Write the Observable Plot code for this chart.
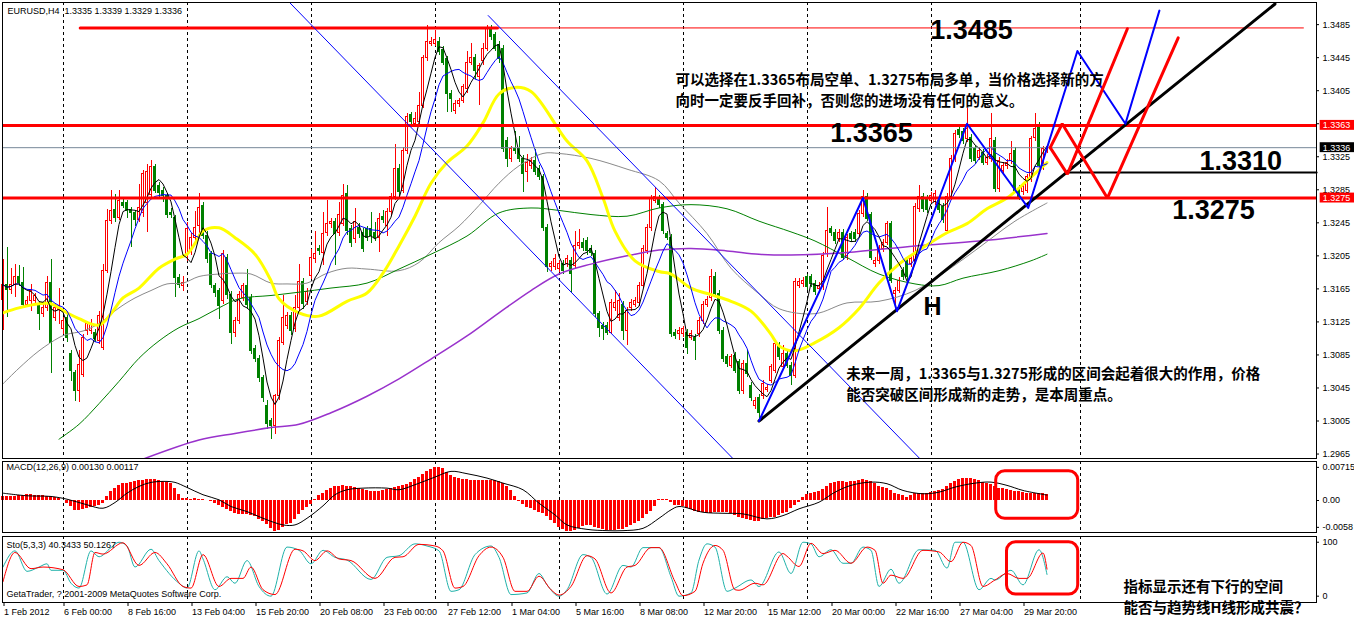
<!DOCTYPE html>
<html><head><meta charset="utf-8">
<script src="https://cdn.jsdelivr.net/npm/d3@7"></script>
<script src="https://cdn.jsdelivr.net/npm/@observablehq/plot@0.6"></script>
<style>
html,body{margin:0;padding:0;background:#fff;}
#chart{width:1354px;height:619px;overflow:hidden;}
#chart svg{display:block;}
</style></head><body><div id="chart"></div>
<script>
// ===== DATA (EURUSD H4) =====
const open = [
1.3152,1.3170,1.3164,1.3170,1.3179,1.3172,1.3146,1.3150,1.3150,1.3146,
1.3134,1.3142,1.3172,1.3130,1.3140,1.3116,1.3130,1.3086,1.3063,1.3041,
1.3061,1.3114,1.3114,1.3112,1.3102,1.3094,1.3187,1.3247,1.3261,1.3251,
1.3269,1.3269,1.3261,1.3257,1.3249,1.3257,1.3269,1.3279,1.3312,1.3290,
1.3284,1.3277,1.3257,1.3251,1.3178,1.3168,1.3205,1.3211,1.3227,1.3241,
1.3265,1.3229,1.3207,1.3168,1.3162,1.3150,1.3203,1.3158,1.3112,1.3126,
1.3154,1.3168,1.3154,1.3092,1.3080,1.3057,1.3023,1.3005,1.2999,1.3035,
1.3100,1.3120,1.3132,1.3116,1.3142,1.3173,1.3149,1.3181,1.3201,1.3213,
1.3209,1.3233,1.3244,1.3246,1.3233,1.3244,1.3280,1.3237,1.3225,1.3239,
1.3233,1.3237,1.3237,1.3233,1.3227,1.3252,1.3241,1.3258,1.3276,1.3310,
1.3284,1.3332,1.3375,1.3365,1.3367,1.3387,1.3445,1.3462,1.3462,1.3464,
1.3454,1.3443,1.3401,1.3381,1.3389,1.3393,1.3407,1.3439,1.3445,1.3421,
1.3441,1.3456,1.3480,1.3472,1.3460,1.3456,1.3344,1.3322,1.3334,1.3334,
1.3322,1.3306,1.3314,1.3320,1.3310,1.3300,1.3239,1.3191,1.3191,1.3189,
1.3195,1.3195,1.3199,1.3193,1.3217,1.3221,1.3223,1.3213,1.3207,1.3134,
1.3120,1.3120,1.3112,1.3142,1.3130,1.3146,1.3114,1.3142,1.3146,1.3148,
1.3169,1.3211,1.3239,1.3272,1.3274,1.3266,1.3231,1.3227,1.3112,1.3110,
1.3110,1.3112,1.3106,1.3106,1.3110,1.3126,1.3146,1.3154,1.3179,1.3159,
1.3114,1.3082,1.3072,1.3084,1.3076,1.3041,1.3074,1.3048,1.3023,1.3033,
1.3035,1.3043,1.3054,1.3066,1.3096,1.3070,1.3086,1.3072,1.3060,1.3169,
1.3171,1.3179,1.3179,1.3171,1.3165,1.3167,1.3207,1.3237,1.3233,1.3225,
1.3233,1.3203,1.3231,1.3233,1.3231,1.3256,1.3276,1.3254,1.3195,1.3199,
1.3213,1.3221,1.3243,1.3159,1.3163,1.3187,1.3199,1.3195,1.3199,1.3262,
1.3276,1.3274,1.3272,1.3270,1.3272,1.3264,1.3235,1.3276,1.3322,1.3357,
1.3355,1.3346,1.3348,1.3334,1.3324,1.3330,1.3318,1.3322,1.3344,1.3286,
1.3308,1.3314,1.3320,1.3332,1.3286,1.3282,1.3284,1.3298,1.3348,1.3363,
1.3312,1.3335];
const high = [
1.3201,1.3215,1.3190,1.3195,1.3193,1.3191,1.3156,1.3170,1.3160,1.3150,
1.3146,1.3180,1.3201,1.3146,1.3166,1.3130,1.3134,1.3090,1.3066,1.3090,
1.3110,1.3126,1.3128,1.3116,1.3138,1.3195,1.3261,1.3284,1.3279,1.3284,
1.3276,1.3272,1.3264,1.3260,1.3292,1.3308,1.3316,1.3320,1.3316,1.3294,
1.3288,1.3280,1.3262,1.3254,1.3182,1.3180,1.3245,1.3232,1.3259,1.3281,
1.3270,1.3234,1.3210,1.3172,1.3166,1.3212,1.3207,1.3162,1.3130,1.3162,
1.3172,1.3189,1.3158,1.3096,1.3084,1.3060,1.3030,1.3008,1.3037,1.3106,
1.3157,1.3136,1.3136,1.3157,1.3195,1.3178,1.3165,1.3213,1.3235,1.3218,
1.3258,1.3272,1.3250,1.3250,1.3270,1.3292,1.3290,1.3242,1.3262,1.3244,
1.3238,1.3241,1.3258,1.3245,1.3256,1.3260,1.3262,1.3280,1.3340,1.3316,
1.3336,1.3377,1.3379,1.3379,1.3403,1.3448,1.3484,1.3470,1.3478,1.3470,
1.3458,1.3447,1.3405,1.3393,1.3396,1.3412,1.3452,1.3462,1.3449,1.3438,
1.3462,1.3484,1.3484,1.3476,1.3464,1.3460,1.3348,1.3338,1.3355,1.3349,
1.3326,1.3328,1.3324,1.3334,1.3314,1.3304,1.3243,1.3198,1.3207,1.3199,
1.3199,1.3206,1.3203,1.3235,1.3237,1.3226,1.3227,1.3217,1.3211,1.3138,
1.3124,1.3124,1.3152,1.3163,1.3160,1.3150,1.3142,1.3152,1.3154,1.3173,
1.3217,1.3243,1.3278,1.3288,1.3278,1.3270,1.3235,1.3231,1.3116,1.3118,
1.3120,1.3116,1.3114,1.3110,1.3130,1.3150,1.3156,1.3189,1.3185,1.3163,
1.3118,1.3086,1.3086,1.3088,1.3080,1.3078,1.3090,1.3052,1.3033,1.3037,
1.3054,1.3049,1.3074,1.3102,1.3100,1.3096,1.3090,1.3076,1.3177,1.3177,
1.3179,1.3183,1.3183,1.3175,1.3173,1.3209,1.3264,1.3241,1.3237,1.3237,
1.3237,1.3231,1.3235,1.3237,1.3260,1.3284,1.3280,1.3258,1.3203,1.3217,
1.3225,1.3247,1.3247,1.3167,1.3179,1.3191,1.3203,1.3205,1.3268,1.3290,
1.3280,1.3278,1.3282,1.3284,1.3276,1.3268,1.3280,1.3326,1.3357,1.3361,
1.3359,1.3383,1.3352,1.3338,1.3336,1.3334,1.3328,1.3377,1.3348,1.3324,
1.3318,1.3322,1.3344,1.3336,1.3290,1.3292,1.3304,1.3350,1.3377,1.3367,
1.3338,1.3339];
const low = [
1.3114,1.3130,1.3158,1.3154,1.3168,1.3142,1.3142,1.3138,1.3146,1.3114,
1.3130,1.3138,1.3063,1.3126,1.3122,1.3110,1.3100,1.3053,1.3029,1.3027,
1.3058,1.3108,1.3110,1.3100,1.3098,1.3090,1.3184,1.3243,1.3245,1.3248,
1.3262,1.3250,1.3215,1.3240,1.3245,1.3252,1.3233,1.3274,1.3280,1.3276,
1.3270,1.3250,1.3250,1.3154,1.3166,1.3162,1.3198,1.3205,1.3222,1.3231,
1.3225,1.3196,1.3165,1.3155,1.3128,1.3146,1.3152,1.3098,1.3106,1.3122,
1.3150,1.3140,1.3086,1.3076,1.3052,1.3028,1.2995,1.2983,1.2989,1.3030,
1.3096,1.3116,1.3108,1.3112,1.3138,1.3140,1.3145,1.3176,1.3196,1.3206,
1.3193,1.3228,1.3238,1.3193,1.3228,1.3240,1.3230,1.3215,1.3220,1.3226,
1.3209,1.3222,1.3220,1.3222,1.3209,1.3244,1.3229,1.3254,1.3272,1.3275,
1.3280,1.3328,1.3362,1.3360,1.3362,1.3383,1.3440,1.3458,1.3458,1.3448,
1.3435,1.3379,1.3379,1.3376,1.3385,1.3389,1.3402,1.3435,1.3419,1.3387,
1.3436,1.3452,1.3466,1.3452,1.3438,1.3330,1.3312,1.3318,1.3328,1.3318,
1.3282,1.3294,1.3310,1.3302,1.3296,1.3235,1.3185,1.3186,1.3187,1.3185,
1.3183,1.3191,1.3160,1.3189,1.3213,1.3210,1.3206,1.3204,1.3130,1.3106,
1.3102,1.3108,1.3110,1.3138,1.3126,1.3102,1.3096,1.3138,1.3142,1.3144,
1.3165,1.3207,1.3235,1.3268,1.3262,1.3231,1.3223,1.3106,1.3104,1.3102,
1.3106,1.3086,1.3102,1.3078,1.3106,1.3122,1.3142,1.3150,1.3155,1.3110,
1.3076,1.3070,1.3068,1.3062,1.3037,1.3037,1.3058,1.3029,1.3019,1.3005,
1.3031,1.3039,1.3050,1.3062,1.3078,1.3066,1.3068,1.3048,1.3056,1.3165,
1.3167,1.3163,1.3167,1.3157,1.3161,1.3163,1.3203,1.3229,1.3219,1.3221,
1.3199,1.3199,1.3221,1.3221,1.3227,1.3252,1.3246,1.3199,1.3191,1.3195,
1.3209,1.3217,1.3171,1.3138,1.3159,1.3175,1.3175,1.3191,1.3195,1.3258,
1.3258,1.3256,1.3268,1.3266,1.3256,1.3244,1.3231,1.3272,1.3318,1.3347,
1.3340,1.3342,1.3318,1.3316,1.3320,1.3314,1.3314,1.3318,1.3282,1.3282,
1.3304,1.3310,1.3316,1.3280,1.3272,1.3278,1.3280,1.3294,1.3344,1.3310,
1.3308,1.3329];
const close = [
1.3170,1.3164,1.3170,1.3179,1.3172,1.3146,1.3150,1.3162,1.3156,1.3134,
1.3142,1.3172,1.3100,1.3142,1.3144,1.3126,1.3106,1.3065,1.3041,1.3073,
1.3106,1.3122,1.3123,1.3104,1.3132,1.3187,1.3247,1.3259,1.3251,1.3271,
1.3265,1.3259,1.3257,1.3249,1.3263,1.3304,1.3306,1.3312,1.3284,1.3281,
1.3277,1.3255,1.3255,1.3178,1.3170,1.3172,1.3237,1.3227,1.3239,1.3263,
1.3229,1.3201,1.3170,1.3160,1.3144,1.3207,1.3158,1.3112,1.3126,1.3158,
1.3168,1.3146,1.3090,1.3080,1.3057,1.3033,1.3001,1.2999,1.3035,1.3102,
1.3130,1.3132,1.3114,1.3142,1.3173,1.3147,1.3161,1.3203,1.3207,1.3211,
1.3231,1.3244,1.3246,1.3231,1.3254,1.3278,1.3235,1.3221,1.3246,1.3231,
1.3213,1.3227,1.3229,1.3227,1.3250,1.3248,1.3258,1.3276,1.3310,1.3282,
1.3332,1.3373,1.3367,1.3371,1.3387,1.3445,1.3464,1.3464,1.3466,1.3452,
1.3439,1.3401,1.3395,1.3389,1.3393,1.3409,1.3439,1.3445,1.3429,1.3435,
1.3456,1.3480,1.3470,1.3456,1.3443,1.3334,1.3322,1.3334,1.3332,1.3322,
1.3304,1.3318,1.3320,1.3306,1.3300,1.3239,1.3191,1.3195,1.3201,1.3195,
1.3187,1.3201,1.3183,1.3217,1.3221,1.3215,1.3211,1.3209,1.3134,1.3118,
1.3116,1.3112,1.3148,1.3148,1.3150,1.3114,1.3138,1.3148,1.3150,1.3169,
1.3213,1.3239,1.3274,1.3276,1.3266,1.3235,1.3227,1.3110,1.3108,1.3114,
1.3116,1.3094,1.3110,1.3102,1.3126,1.3146,1.3152,1.3179,1.3159,1.3114,
1.3080,1.3074,1.3082,1.3066,1.3041,1.3074,1.3062,1.3033,1.3029,1.3015,
1.3050,1.3045,1.3070,1.3098,1.3082,1.3086,1.3072,1.3060,1.3173,1.3173,
1.3175,1.3167,1.3171,1.3161,1.3169,1.3205,1.3235,1.3233,1.3223,1.3233,
1.3203,1.3227,1.3225,1.3225,1.3256,1.3276,1.3250,1.3203,1.3199,1.3213,
1.3221,1.3243,1.3175,1.3163,1.3175,1.3179,1.3179,1.3201,1.3264,1.3276,
1.3262,1.3260,1.3278,1.3280,1.3260,1.3248,1.3276,1.3322,1.3353,1.3351,
1.3344,1.3359,1.3322,1.3320,1.3332,1.3318,1.3324,1.3346,1.3286,1.3320,
1.3314,1.3318,1.3328,1.3284,1.3276,1.3288,1.3300,1.3346,1.3359,1.3314,
1.3334,1.3336];

// moving averages drawn on the chart: [bar, price]
const maYellow = [[0,1.3136],[4,1.3142],[9,1.3147],[12,1.3147],[16,1.3136],[19,1.3129],[24,1.3121],[27,1.3135],[30,1.3154],[34,1.3166],[39,1.3190],[43,1.3201],[46,1.3207],[48,1.3220],[50,1.3235],[54,1.3239],[58,1.3227],[63,1.3207],[67,1.3175],[69,1.3153],[74,1.3136],[79,1.3132],[86,1.3150],[91,1.3160],[95,1.3184],[99,1.3217],[103,1.3253],[107,1.3293],[111,1.3318],[116,1.3338],[120,1.3366],[124,1.3401],[128,1.3409],[132,1.3404],[141,1.3344],[146,1.3320],[150,1.3275],[153,1.3235],[158,1.3199],[164,1.3186],[167,1.3183],[172,1.3166],[177,1.3158],[182,1.3150],[187,1.3138],[192,1.3110],[194,1.3096],[198,1.3090],[203,1.3100],[209,1.3118],[214,1.3141],[219,1.3172],[224,1.3195],[230,1.3215],[236,1.3233],[241,1.3244],[246,1.3262],[251,1.3275],[256,1.3296],[261,1.3318]];
const maGray = [[0,1.3050],[4,1.3069],[9,1.3090],[14,1.3106],[16,1.3110],[20,1.3114],[24,1.3123],[29,1.3142],[33,1.3154],[37,1.3163],[41,1.3171],[45,1.3172],[49,1.3180],[54,1.3183],[58,1.3184],[62,1.3183],[67,1.3172],[71,1.3171],[76,1.3172],[81,1.3184],[86,1.3190],[91,1.3189],[99,1.3187],[104,1.3197],[109,1.3221],[114,1.3241],[119,1.3266],[124,1.3293],[129,1.3314],[135,1.3329],[139,1.3329],[147,1.3323],[156,1.3310],[164,1.3296],[169,1.3269],[176,1.3232],[182,1.3190],[189,1.3159],[194,1.3141],[203,1.3135],[211,1.3148],[219,1.3150],[228,1.3163],[236,1.3187],[244,1.3215],[253,1.3247],[261,1.3269]];
const maGreen = [[14,1.2983],[19,1.3001],[24,1.3026],[29,1.3053],[34,1.3081],[39,1.3102],[44,1.3118],[49,1.3129],[54,1.3142],[59,1.3153],[67,1.3157],[74,1.3161],[82,1.3166],[91,1.3172],[99,1.3189],[107,1.3207],[116,1.3229],[124,1.3257],[132,1.3263],[139,1.3260],[147,1.3255],[156,1.3253],[164,1.3263],[172,1.3267],[181,1.3262],[189,1.3247],[197,1.3234],[203,1.3223],[211,1.3203],[219,1.3183],[228,1.3171],[234,1.3169],[240,1.3178],[249,1.3187],[257,1.3199],[261,1.3207]];
const maPurple = [[34,1.2957],[49,1.2982],[58,1.2990],[67,1.2997],[74,1.3001],[82,1.3015],[91,1.3035],[99,1.3056],[107,1.3080],[116,1.3108],[124,1.3136],[132,1.3163],[139,1.3183],[147,1.3195],[156,1.3205],[164,1.3212],[172,1.3214],[181,1.3211],[189,1.3207],[197,1.3206],[211,1.3209],[228,1.3217],[244,1.3223],[261,1.3232]];

// MACD(12,26,9): main (histogram, one per bar) and signal [bar, value]
const macdMain = [
0.00087,0.00087,0.00087,0.00093,0.00102,0.00109,0.00124,0.00124,0.00115,0.00109,
0.00102,0.00093,0.00087,0.00065,0.00037,0.00007,-0.00059,-0.0013,-0.00217,-0.00217,
-0.00202,-0.0018,-0.00152,-0.0013,-0.00102,-0.00059,0.00087,0.00195,0.00267,0.00326,
0.00362,0.00375,0.00397,0.00412,0.00427,0.00434,0.00456,0.00462,0.00449,0.00434,
0.00412,0.00391,0.00362,0.00267,0.00124,0.0005,0.0005,0.00028,0.00043,0.00028,
0.00015,0,-0.00028,-0.00072,-0.00115,-0.00145,-0.00202,-0.00245,-0.00289,-0.0031,
-0.0031,-0.0031,-0.00326,-0.00347,-0.00406,-0.00456,-0.00527,-0.00601,-0.00673,-0.00651,
-0.00579,-0.00527,-0.00493,-0.00419,-0.0031,-0.00217,-0.00145,-0.00093,0.00028,0.00102,
0.00158,0.0021,0.0026,0.00297,0.0031,0.00319,0.0031,0.00304,0.00282,0.00267,
0.00245,0.00224,0.00202,0.00195,0.00202,0.00217,0.00232,0.00254,0.00276,0.00304,
0.00326,0.00354,0.00397,0.00449,0.00506,0.00558,0.00623,0.00679,0.0071,0.00723,
0.00701,0.00608,0.00549,0.00506,0.00471,0.00449,0.00449,0.00441,0.00434,0.00434,
0.00434,0.00434,0.00434,0.00434,0.00412,0.00362,0.00304,0.00217,0.00087,-0.00022,
-0.00093,-0.00145,-0.00174,-0.00217,-0.0026,-0.00289,-0.00347,-0.00434,-0.00506,-0.00579,
-0.00636,-0.00666,-0.00679,-0.00651,-0.00601,-0.00564,-0.00549,-0.00549,-0.00579,-0.00608,
-0.00636,-0.00658,-0.00651,-0.00651,-0.00636,-0.00623,-0.00579,-0.00549,-0.00506,-0.00456,
-0.00384,-0.0031,-0.00239,-0.0013,0.00015,0.00022,0.00015,-0.00043,-0.00108,-0.00109,
-0.0013,-0.00174,-0.00202,-0.00232,-0.00254,-0.00267,-0.00289,-0.00276,-0.00254,-0.00254,
-0.00254,-0.00267,-0.00289,-0.00326,-0.00362,-0.00391,-0.00419,-0.00434,-0.00449,-0.00449,
-0.00419,-0.00397,-0.00375,-0.00362,-0.00326,-0.00289,-0.00254,-0.0018,-0.00109,-0.00037,
0.00072,0.0013,0.00158,0.00174,0.00189,0.00232,0.00304,0.00362,0.00391,0.00406,
0.00406,0.00397,0.00406,0.00419,0.00434,0.00449,0.00434,0.00412,0.00362,0.0031,
0.00276,0.0026,0.00217,0.00158,0.00124,0.00102,0.00072,0.00102,0.00145,0.00158,
0.00158,0.00158,0.0018,0.00202,0.00217,0.00239,0.00304,0.00362,0.00406,0.00449,
0.00471,0.00477,0.00471,0.00462,0.00434,0.00397,0.00362,0.00347,0.00304,0.00267,
0.00254,0.00239,0.00217,0.00202,0.00189,0.00174,0.00158,0.00145,0.00145,0.00152,
0.00158,0.0013];
const macdSignal = [[0,0.00158],[6,0.00102],[12,0.00087],[16,0.00028],[21,-0.00093],[25,-0.00167],[28,-0.00043],[31,0.00158],[34,0.00304],[37,0.00391],[41,0.00412],[43,0.00391],[46,0.00282],[50,0.00124],[54,0.00015],[57,-0.0013],[61,-0.00239],[65,-0.00384],[70,-0.00527],[73,-0.00527],[76,-0.00384],[80,-0.00115],[83,0.00124],[86,0.00232],[90,0.00267],[96,0.00267],[99,0.00232],[103,0.00341],[108,0.00506],[112,0.00629],[116,0.00579],[121,0.00484],[125,0.00375],[130,0.00232],[134,-0.00059],[138,-0.0031],[141,-0.00527],[146,-0.00623],[151,-0.00651],[155,-0.00651],[160,-0.00601],[164,-0.00384],[167,-0.00202],[169,-0.0013],[175,-0.00254],[180,-0.00276],[185,-0.00289],[191,-0.00397],[195,-0.00326],[199,-0.0018],[204,-0.00037],[208,0.0018],[212,0.00326],[217,0.00397],[221,0.00362],[225,0.00217],[230,0.00145],[234,0.0018],[238,0.00289],[243,0.00375],[247,0.00397],[251,0.00326],[255,0.00217],[261,0.00117]];

// Stochastic(5,3,3): main and signal [bar, value]
const stochMain = [[0,54],[3,84],[6,46],[9,54],[11,60],[12,48],[15,48],[17,24],[19,15],[22,84],[24,73],[27,90],[29,100],[31,93],[33,54],[37,87],[39,66],[44,24],[46,15],[49,84],[50,69],[53,12],[56,36],[58,24],[61,66],[64,18],[67,0],[71,91],[74,85],[77,60],[80,85],[83,72],[86,67],[92,31],[96,72],[99,75],[103,97],[106,93],[109,84],[112,9],[114,12],[118,77],[122,93],[124,72],[127,3],[131,6],[134,42],[136,21],[139,0],[141,12],[145,77],[147,72],[151,4],[155,57],[157,54],[160,90],[164,90],[167,36],[169,0],[172,6],[174,67],[176,97],[178,91],[181,9],[183,15],[187,30],[189,18],[194,82],[197,42],[200,100],[202,97],[204,73],[207,86],[210,61],[212,61],[215,91],[217,85],[219,18],[222,50],[224,24],[229,86],[233,85],[236,52],[238,100],[240,100],[244,12],[247,33],[248,30],[252,48],[255,21],[259,86],[261,40.3433]];
const stochSignal = [[0,27],[3,81],[7,51],[10,54],[15,49],[19,18],[21,21],[23,81],[25,78],[30,99],[34,57],[38,81],[41,60],[45,18],[47,15],[50,77],[54,18],[57,33],[60,33],[62,54],[65,12],[68,3],[73,87],[75,84],[78,66],[81,84],[84,69],[87,66],[93,33],[98,72],[100,73],[104,96],[108,93],[110,84],[113,15],[115,18],[119,75],[122,91],[125,72],[128,9],[131,9],[134,37],[137,12],[139,2],[142,18],[146,75],[148,69],[152,6],[156,54],[158,57],[162,90],[164,90],[168,27],[170,1],[173,9],[175,61],[178,94],[180,85],[183,12],[184,11],[188,24],[190,21],[195,79],[196,74],[199,55],[202,98],[205,79],[208,85],[212,61],[216,91],[218,85],[220,24],[222,39],[225,33],[230,85],[234,82],[237,64],[240,100],[242,94],[245,18],[248,30],[251,42],[254,33],[256,33],[260,80],[261,50.1267]];

// time axis
const weekStarts = [15, 46, 77, 108, 139, 170, 201, 232, 269.3];
const timeTickBars = [0, 15, 31, 47, 63, 79, 95, 111, 127, 143, 159, 175, 191, 207, 223, 239, 255];
const timeTickLabels = ["1 Feb 2012","6 Feb 00:00","8 Feb 16:00","13 Feb 04:00","15 Feb 20:00","20 Feb 08:00","23 Feb 00:00","27 Feb 12:00","1 Mar 04:00","5 Mar 16:00","8 Mar 08:00","12 Mar 20:00","15 Mar 12:00","20 Mar 00:00","22 Mar 16:00","27 Mar 04:00","29 Mar 20:00"];
const priceTicks = [1.2965,1.3005,1.3045,1.3085,1.3125,1.3165,1.3205,1.3245,1.3285,1.3325,1.3365,1.3405,1.3445,1.3485];
const macdTicks = [0.00715, 0, -0.0058];
const macdTickLabels = ["0.00715", "0.00", "-0.0058"];
const stochTicks = [0, 100];

// levels and drawn objects [bar, price]
const rangeLevels = [1.3363, 1.3275];
const bidPrice = 1.3336;
const topLevelThin = [[19.3, 1.3481], [325.1, 1.3481]];
const topLevelThick = [[19.3, 1.3481], [123.6, 1.3481]];
const midLevel = [[266.1, 1.3306], [328.4, 1.3306]];
const channelA = [[70, 1.3520], [185, 1.2947]];
const channelB = [[121.3, 1.3496], [229.3, 1.2959]];
const trendLine = [[189, 1.3005], [318, 1.3510]];
const zigzag = [[189,1.3005],[215,1.3275],[223.5,1.3138],[241,1.3365],[256.3,1.3263],[268.6,1.3453],[280.6,1.3365],[289.1,1.3502]];
const projA = [[261.8,1.3336],[264.8,1.3365],[276.1,1.3275],[293.8,1.3469]];
const projB = [[261.8,1.3336],[266.1,1.3304],[281.1,1.3480]];
const bigLabels = [
  {text: "1.3485", bar: 231.8, price: 1.3478},
  {text: "1.3365", bar: 206.8, price: 1.33537},
  {text: "1.3310", bar: 299.1, price: 1.3320},
  {text: "1.3275", bar: 292.3, price: 1.32605}
];
const hLabel = [{text: "H", bar: 230.1, price: 1.31436}];
const notesMain = [
  {text: "可以选择在1.3365布局空单、1.3275布局多单，当价格选择新的方\n向时一定要反手回补，否则您的进场没有任何的意义。", bar: 168.1, price: 1.34079},
  {text: "未来一周，1.3365与1.3275形成的区间会起着很大的作用，价格\n能否突破区间形成新的走势，是本周重点。", bar: 210.8, price: 1.30517}
];
const notesStoch = [
  {text: "指标显示还有下行的空间\n能否与趋势线H线形成共震？", bar: 280.1, value: 0.4}
];
const macdBox = [{x1: 248.3, x2: 268.8, y1: -0.00395, y2: 0.00633}];
const stochBox = [{x1: 251.0, x2: 268.8, y1: 3.1, y2: 100}];

// ===== RENDER =====
const n = close.length;
if (open.length !== n || high.length !== n || low.length !== n || macdMain.length !== n)
  throw new Error(`length mismatch o${open.length} h${high.length} l${low.length} c${n} m${macdMain.length}`);

const W = 1354;
const X_DOMAIN = [-0.125, 328.375];
const FONT = "'Liberation Sans', Arial, sans-serif";
const CJK = "'Noto Sans CJK SC', 'Noto Sans CJK TC', sans-serif";
const UP = "#ff0000", DN = "#008000";
const style = {fontFamily: FONT, fontSize: "9px", background: "white", color: "black", overflow: "visible"};
const dashed = {stroke: "#000", strokeWidth: 1, strokeDasharray: "3,3", shapeRendering: "crispEdges"};
const xy = {x: d => d[0], y: d => d[1]};

const candles = close.map((c, i) => ({i, o: open[i], h: high[i], l: low[i], c, up: c >= open[i]}));
const macdRows = macdMain.map((v, i) => ({i, v}));
const timeLabelOf = new Map(timeTickBars.map((b, k) => [b, timeTickLabels[k]]));
const macdLabelOf = new Map(macdTicks.map((t, k) => [t, macdTickLabels[k]]));
const last = n - 1;
const header = `EURUSD,H4  ${open[last].toFixed(4)} ${high[last].toFixed(4)} ${low[last].toFixed(4)} ${close[last].toFixed(4)}`;
const macdHeader = `MACD(12,26,9) ${macdMain[last].toFixed(5)} ${macdSignal[macdSignal.length-1][1].toFixed(5)}`;
const stochHeader = `Sto(5,3,3) ${stochMain[stochMain.length-1][1].toFixed(4)} ${stochSignal[stochSignal.length-1][1].toFixed(4)}`;
const tags = [rangeLevels[0], bidPrice, rangeLevels[1]];

const noteMarks = (rows, yField) => rows.map(r => Plot.text([r], {x: "bar", y: yField, text: "text",
  textAnchor: "start", lineAnchor: "middle", lineHeight: 1.46,
  fontSize: 14.5, fontWeight: "bold", fontFamily: CJK, fill: "#000"}));

const mainPlot = Plot.plot({
  width: W, height: 460, marginLeft: 2, marginRight: 38, marginTop: 2, marginBottom: 2,
  x: {domain: X_DOMAIN, axis: null},
  y: {domain: [1.29596, 1.35118]},
  color: {type: "identity"},
  style,
  marks: [
    Plot.ruleX(weekStarts, dashed),
    Plot.ruleX(candles, {x: "i", y1: "l", y2: "h", stroke: d => d.up ? UP : DN, shapeRendering: "crispEdges"}),
    Plot.rect(candles, {x1: d => d.i - 0.3, x2: d => d.i + 0.3, y1: "o", y2: "c",
      fill: d => d.up ? "#ffffff" : DN, stroke: d => d.up ? UP : DN, shapeRendering: "crispEdges"}),
    Plot.line(maGray, {...xy, stroke: "#8a8a8a", strokeWidth: 1, curve: "catmull-rom", clip: true}),
    Plot.line(maGreen, {...xy, stroke: "#008000", strokeWidth: 1, curve: "catmull-rom", clip: true}),
    Plot.line(maPurple, {...xy, stroke: "#9932cc", strokeWidth: 1.5, curve: "catmull-rom", clip: true}),
    Plot.line(maYellow, {...xy, stroke: "#ffff00", strokeWidth: 3, curve: "catmull-rom", clip: true}),
    Plot.lineY(candles, Plot.windowY({k: 10, anchor: "end", reduce: "mean"}, {x: "i", y: "c", stroke: "#0000ff", strokeWidth: 1})),
    Plot.lineY(candles, Plot.windowY({k: 5, anchor: "end", reduce: "mean"}, {x: "i", y: "c", stroke: "#000000", strokeWidth: 1})),
    Plot.ruleY([bidPrice], {stroke: "#778899", strokeWidth: 1}),
    Plot.ruleY(rangeLevels, {stroke: "#ff0000", strokeWidth: 3}),
    Plot.line(topLevelThin, {...xy, stroke: "#ff0000", strokeWidth: 1}),
    Plot.line(topLevelThick, {...xy, stroke: "#ff0000", strokeWidth: 3}),
    Plot.line(midLevel, {...xy, stroke: "#000", strokeWidth: 2}),
    Plot.line(channelA, {...xy, stroke: "#0000ff", strokeWidth: 1, clip: true}),
    Plot.line(channelB, {...xy, stroke: "#0000ff", strokeWidth: 1, clip: true}),
    Plot.line(trendLine, {...xy, stroke: "#000", strokeWidth: 3, clip: true}),
    Plot.line(zigzag, {...xy, stroke: "#0000ff", strokeWidth: 2, clip: true}),
    Plot.line(projA, {...xy, stroke: "#ff0000", strokeWidth: 3, strokeLinejoin: "miter"}),
    Plot.line(projB, {...xy, stroke: "#ff0000", strokeWidth: 3, strokeLinejoin: "miter"}),
    Plot.text(bigLabels, {x: "bar", y: "price", text: "text", textAnchor: "start", lineAnchor: "middle",
      fontSize: 27, fontWeight: "bold", fontFamily: FONT, fill: "#000"}),
    Plot.text(hLabel, {x: "bar", y: "price", text: "text", textAnchor: "start", lineAnchor: "middle",
      fontSize: 25, fontWeight: "bold", fontFamily: FONT, fill: "#000"}),
    ...noteMarks(notesMain, "price"),
    Plot.text([header], {frameAnchor: "top-left", dx: 5, dy: 9, textAnchor: "start", lineAnchor: "middle", fontSize: 9, fill: "#000"}),
    Plot.frame({stroke: "#000"}),
    Plot.axisY({anchor: "right", ticks: priceTicks, tickFormat: ".4f", tickSize: 2, tickPadding: 4, fontSize: 9}),
    Plot.rect(tags, {x1: X_DOMAIN[1] + 0.92, x2: X_DOMAIN[1] + 9.6, y1: d => d - 0.0006, y2: d => d + 0.0006,
      fill: d => d === bidPrice ? "#000000" : "#ff0000"}),
    Plot.text(tags, {x: X_DOMAIN[1] + 1.55, y: d => d, text: d => d.toFixed(4), textAnchor: "start",
      lineAnchor: "middle", fill: "#ffffff", fontSize: 9})
  ]
});

const macdPlot = Plot.plot({
  width: W, height: 74, marginLeft: 2, marginRight: 38, marginTop: 1, marginBottom: 2,
  x: {domain: X_DOMAIN, axis: null},
  y: {domain: [-0.00691, 0.00842]},
  style,
  marks: [
    Plot.ruleX(weekStarts, dashed),
    Plot.rect(macdRows, {x1: d => d.i - 0.375, x2: d => d.i + 0.375, y1: 0, y2: "v", fill: "#ff0000", shapeRendering: "crispEdges"}),
    Plot.line(macdSignal, {...xy, stroke: "#000", strokeWidth: 1, curve: "catmull-rom"}),
    Plot.rect(macdBox, {x1: "x1", x2: "x2", y1: "y1", y2: "y2", fill: "none", stroke: "#ff0000", strokeWidth: 3, rx: 9}),
    Plot.text([macdHeader], {frameAnchor: "top-left", dx: 4, dy: 6, textAnchor: "start", lineAnchor: "middle", fontSize: 9, fill: "#000"}),
    Plot.frame({stroke: "#000"}),
    Plot.axisY({anchor: "right", ticks: macdTicks, tickFormat: d => macdLabelOf.get(d), tickSize: 2, tickPadding: 4, fontSize: 9})
  ]
});

const stochPlot = Plot.plot({
  width: W, height: 85, marginLeft: 2, marginRight: 38, marginTop: 2, marginBottom: 17,
  x: {domain: X_DOMAIN},
  y: {domain: [-11.7, 110.6]},
  style,
  marks: [
    Plot.ruleX(weekStarts, dashed),
    Plot.line(stochMain, {...xy, stroke: "#20b2aa", strokeWidth: 1, curve: "monotone-x"}),
    Plot.line(stochSignal, {...xy, stroke: "#ff0000", strokeWidth: 1, curve: "monotone-x"}),
    Plot.rect(stochBox, {x1: "x1", x2: "x2", y1: "y1", y2: "y2", fill: "none", stroke: "#ff0000", strokeWidth: 3, rx: 9}),
    Plot.text([stochHeader], {frameAnchor: "top-left", dx: 4, dy: 9, textAnchor: "start", lineAnchor: "middle", fontSize: 9, fill: "#000"}),
    Plot.text(["GetaTrader, ? 2001-2009 MetaQuotes Software Corp."], {frameAnchor: "bottom-left", dx: 4, dy: -8, textAnchor: "start", lineAnchor: "middle", fontSize: 9, fill: "#000"}),
    Plot.frame({stroke: "#000"}),
    Plot.axisY({anchor: "right", ticks: stochTicks, tickFormat: d => String(d), tickSize: 2, tickPadding: 4, fontSize: 9}),
    Plot.axisX({ticks: timeTickBars, tickFormat: d => timeLabelOf.get(d), textAnchor: "start", dx: 1, tickSize: 4, tickPadding: 2, fontSize: 9}),
    ...noteMarks(notesStoch, "value")
  ]
});

const root = document.getElementById("chart");
root.append(mainPlot, macdPlot, stochPlot);
</script>
</body></html>
